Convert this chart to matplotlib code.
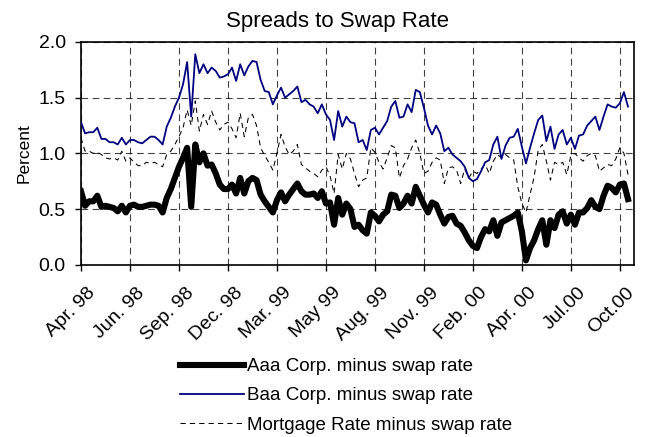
import matplotlib
matplotlib.use("Agg")
import matplotlib.pyplot as plt
import matplotlib.transforms as mtransforms

plt.rcParams['font.family'] = ['Liberation Sans', 'DejaVu Sans']

# weekly spreads, Apr 98 - Oct 00 (percent)
aaa = [0.66, 0.53, 0.57, 0.57, 0.62, 0.52, 0.53, 0.52, 0.51, 0.48, 0.53, 0.47, 0.53, 0.54, 0.52, 0.52,
       0.53, 0.54, 0.54, 0.53, 0.47, 0.60, 0.68, 0.78, 0.88, 0.96, 1.05, 0.52, 1.08, 0.92, 1.00, 0.89,
       0.90, 0.82, 0.72, 0.68, 0.68, 0.72, 0.64, 0.78, 0.64, 0.75, 0.78, 0.76, 0.63, 0.57, 0.52, 0.47,
       0.58, 0.65, 0.57, 0.63, 0.68, 0.73, 0.66, 0.63, 0.63, 0.64, 0.60, 0.66, 0.55, 0.56, 0.36, 0.60,
       0.45, 0.55, 0.50, 0.34, 0.36, 0.31, 0.28, 0.47, 0.44, 0.39, 0.45, 0.48, 0.63, 0.62, 0.51, 0.55,
       0.62, 0.55, 0.70, 0.62, 0.54, 0.47, 0.56, 0.54, 0.45, 0.37, 0.43, 0.44, 0.37, 0.35, 0.29, 0.22,
       0.17, 0.15, 0.25, 0.32, 0.30, 0.40, 0.26, 0.38, 0.40, 0.42, 0.44, 0.47, 0.30, 0.04, 0.15, 0.22,
       0.32, 0.40, 0.18, 0.40, 0.33, 0.45, 0.48, 0.37, 0.45, 0.36, 0.47, 0.47, 0.51, 0.58, 0.52, 0.50,
       0.62, 0.71, 0.69, 0.65, 0.72, 0.73, 0.59]

baa = [1.28, 1.18, 1.19, 1.19, 1.23, 1.13, 1.13, 1.10, 1.10, 1.08, 1.14, 1.08, 1.12, 1.12, 1.10, 1.09,
       1.12, 1.15, 1.15, 1.12, 1.08, 1.24, 1.32, 1.42, 1.50, 1.62, 1.82, 1.33, 1.89, 1.72, 1.80, 1.72,
       1.77, 1.74, 1.68, 1.69, 1.71, 1.77, 1.65, 1.80, 1.70, 1.78, 1.83, 1.82, 1.66, 1.56, 1.55, 1.44,
       1.52, 1.59, 1.50, 1.53, 1.56, 1.60, 1.46, 1.48, 1.44, 1.42, 1.36, 1.44, 1.35, 1.30, 1.12, 1.38,
       1.24, 1.33, 1.28, 1.27, 1.10, 1.12, 1.03, 1.21, 1.23, 1.17, 1.23, 1.29, 1.42, 1.47, 1.32, 1.33,
       1.44, 1.37, 1.57, 1.55, 1.41, 1.25, 1.17, 1.25, 1.18, 1.02, 1.05, 0.99, 0.96, 0.93, 0.88, 0.78,
       0.75, 0.77, 0.84, 0.92, 0.94, 1.08, 1.15, 0.95, 1.07, 1.14, 1.15, 1.22, 1.06, 0.91, 1.05, 1.18,
       1.30, 1.34, 1.11, 1.24, 1.04, 1.17, 1.21, 1.08, 1.14, 1.04, 1.16, 1.17, 1.25, 1.29, 1.33, 1.21,
       1.33, 1.44, 1.42, 1.41, 1.45, 1.55, 1.42]

mortgage = [1.14, 1.02, 1.02, 1.00, 1.01, 0.99, 0.96, 0.95, 0.96, 0.94, 1.02, 0.93, 0.96, 0.92, 0.89, 0.89,
            0.92, 0.91, 0.92, 0.90, 0.88, 0.99, 1.02, 1.08, 1.15, 1.23, 1.39, 1.25, 1.47, 1.20, 1.35, 1.26,
            1.38, 1.28, 1.21, 1.26, 1.28, 1.22, 1.14, 1.36, 1.15, 1.32, 1.35, 1.25, 1.05, 0.98, 0.92, 0.85,
            1.00, 1.17, 1.06, 0.99, 1.02, 1.08, 0.90, 0.87, 0.84, 0.82, 0.79, 0.85, 0.88, 0.80, 0.64, 0.99,
            0.86, 1.00, 0.95, 0.82, 0.70, 0.76, 0.78, 1.05, 1.01, 0.92, 0.86, 0.96, 1.07, 1.05, 0.78, 0.89,
            0.95, 1.05, 1.12, 1.00, 0.82, 0.84, 0.92, 0.96, 0.94, 0.73, 0.87, 0.88, 0.85, 0.73, 0.86, 0.78,
            0.84, 0.82, 0.86, 0.90, 0.82, 0.93, 0.99, 0.96, 0.99, 0.96, 0.94, 0.70, 0.55, 0.47, 0.63, 0.79,
            1.03, 1.08, 0.93, 0.76, 0.92, 0.90, 0.92, 0.81, 0.98, 1.00, 0.96, 0.93, 0.98, 1.00, 0.98, 0.84,
            0.87, 0.90, 0.89, 0.95, 1.05, 1.00, 0.81]

tick_labels = ['Apr. 98', 'Jun. 98', 'Sep. 98', 'Dec. 98', 'Mar. 99', 'May 99', 'Aug. 99',
               'Nov. 99', 'Feb. 00', 'Apr. 00', 'Jul.00', 'Oct.00']
weeks_per_tick = 12

weeks = list(range(len(aaa)))

fig = plt.figure(figsize=(6.5, 4.37), dpi=100)
ax = fig.add_axes([0.1246, 0.394, 0.851, 0.51])

ax.plot(weeks, aaa, color='black', linewidth=4.4, solid_joinstyle='round',
        label='Aaa Corp. minus swap rate', zorder=4)
ax.plot(weeks, baa, color='#000080', linewidth=1.3,
        label='Baa Corp. minus swap rate', zorder=3)
ax.plot(weeks, mortgage, color='black', linewidth=0.75, dashes=(5, 4),
        label='Mortgage Rate minus swap rate', zorder=2)

ax.set_xlim(0, 135.5)
ax.set_ylim(0, 2.0)
ax.set_yticks([0, 0.5, 1.0, 1.5, 2.0])
ax.set_yticklabels(['0.0', '0.5', '1.0', '1.5', '2.0'], fontsize=14)
ax.set_xticks([i * weeks_per_tick for i in range(len(tick_labels))])
ax.set_xticklabels(tick_labels, rotation=45, ha='right', va='top',
                   rotation_mode='anchor', fontsize=14)
ax.tick_params(direction='out', length=4, width=1, color='black')
ax.tick_params(axis='y', pad=7)
ax.tick_params(axis='x', pad=10)

# nudge the slanted month labels a little to the right of their ticks
shift = mtransforms.ScaledTranslation(0.06, 0, fig.dpi_scale_trans)
for lbl in ax.get_xticklabels():
    lbl.set_transform(lbl.get_transform() + shift)

ax.grid(True, color='black', linestyle=(0, (6, 4)), linewidth=0.8, alpha=0.75)
for s in ax.spines.values():
    s.set_linewidth(1.2)

ax.set_ylabel('Percent', fontsize=12.5, labelpad=5)
ax.set_title('Spreads to Swap Rate', fontsize=16, pad=11, x=0.463)

fig.legend(loc='upper left', bbox_to_anchor=(0.266, 0.198), frameon=False, fontsize=13.5,
           handlelength=3.4, handletextpad=0.15, labelspacing=0.65, borderaxespad=0)

fig.savefig('out.png', dpi=100)
